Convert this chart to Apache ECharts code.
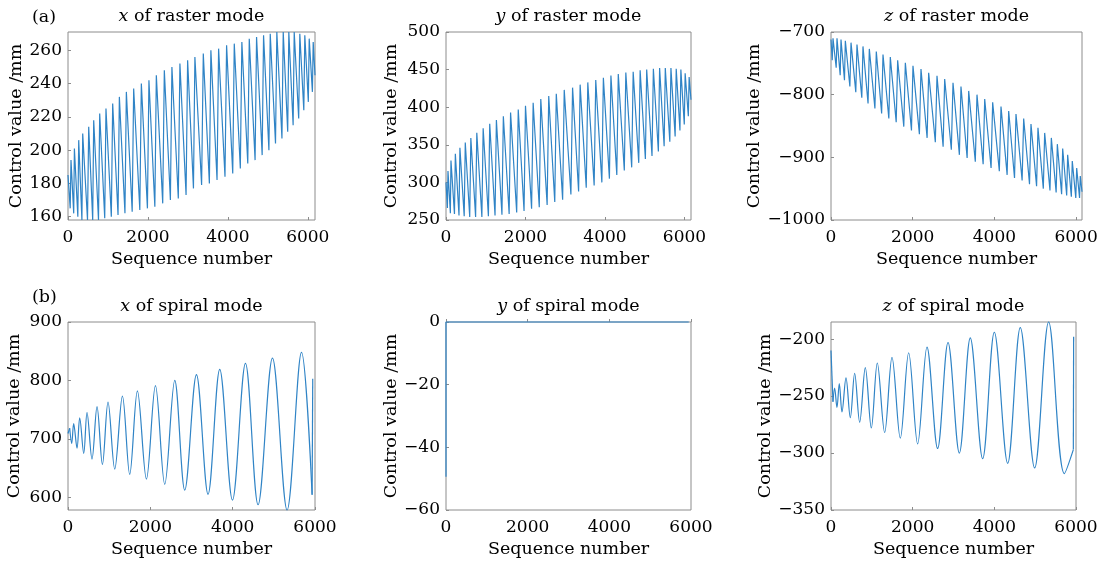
<!DOCTYPE html>
<html>
<head>
<meta charset="utf-8">
<script src="https://cdn.jsdelivr.net/npm/echarts@6/dist/echarts.min.js"></script>
<style>
  html, body { margin: 0; background: #fff; }
  #chart { width: 1111px; height: 562px; }
</style>
</head>
<body>
<div id="chart"></div>
<script>
// ---- raster mode: peaks and troughs of the zigzag ----
const rasterXStart = [0, 185]
const rasterXEnd = [6180, 245]
const rasterXTroughSeq = [55, 143, 246, 348, 488, 618, 763, 919, 1084, 1252, 1425, 1606, 1797, 1987, 2173, 2370, 2562, 2760, 2954, 3139, 3343, 3537, 3729, 3928, 4122, 4312, 4498, 4681, 4858, 5027, 5192, 5353, 5497, 5633, 5772, 5900, 6013, 6115]
const rasterXTroughVal = [165, 162, 160, 158, 158, 158, 158, 159, 160, 161, 162, 163, 164, 165, 166, 168, 170, 171, 173, 177, 179, 180, 182, 184, 186, 189, 192, 194, 197, 200, 204, 207, 211, 215, 219, 224, 229, 235]
const rasterXPeakSeq = [75, 160, 268, 368, 518, 643, 793, 950, 1118, 1285, 1460, 1643, 1835, 2025, 2210, 2410, 2600, 2800, 2993, 3175, 3385, 3575, 3768, 3968, 4160, 4350, 4535, 4718, 4893, 5060, 5225, 5385, 5525, 5660, 5800, 5925, 6035, 6135]
const rasterXPeakVal = [194, 201, 206, 210, 214, 218, 222, 225, 228, 232, 235, 237, 240, 242, 245, 248, 250, 252, 254, 256, 258, 260, 261, 263, 264, 265, 267, 268, 269, 270, 271, 271, 271, 271, 270, 269, 267, 265]

const rasterYStart = [0, 300]
const rasterYEnd = [6165, 410]
const rasterYTroughSeq = [35, 110, 213, 327, 458, 597, 745, 903, 1067, 1234, 1408, 1589, 1779, 1964, 2154, 2347, 2545, 2737, 2935, 3143, 3337, 3529, 3728, 3922, 4112, 4298, 4487, 4673, 4850, 5017, 5184, 5344, 5489, 5632, 5766, 5887, 5996, 6098]
const rasterYTroughVal = [266, 259, 258, 256, 255, 254, 254, 254, 255, 256, 257, 258, 260, 262, 265, 267, 270, 274, 277, 284, 288, 293, 296, 300, 305, 310, 316, 320, 326, 331, 335, 341, 348, 354, 361, 369, 377, 388]
const rasterYPeakSeq = [50, 125, 235, 350, 485, 625, 775, 935, 1100, 1268, 1443, 1625, 1818, 2000, 2193, 2385, 2585, 2775, 2975, 3185, 3375, 3568, 3768, 3960, 4150, 4335, 4525, 4710, 4885, 5050, 5218, 5375, 5518, 5660, 5793, 5910, 6018, 6118]
const rasterYPeakVal = [315, 329, 338, 346, 353, 359, 366, 372, 378, 383, 388, 393, 397, 402, 406, 411, 415, 418, 423, 426, 430, 433, 436, 439, 442, 444, 446, 447, 449, 450, 451, 452, 452, 452, 451, 450, 445, 440]

const rasterZStart = [0, -712]
const rasterZEnd = [6145, -955]
const rasterZTroughSeq = [30, 127, 225, 330, 462, 607, 754, 907, 1075, 1240, 1416, 1596, 1782, 1970, 2164, 2353, 2554, 2745, 2946, 3143, 3333, 3533, 3725, 3919, 4121, 4312, 4493, 4679, 4860, 5033, 5198, 5361, 5512, 5646, 5770, 5884, 5993, 6085]
const rasterZTroughVal = [-745, -757, -769, -777, -787, -796, -805, -814, -822, -830, -838, -844, -851, -857, -863, -869, -876, -883, -888, -896, -901, -907, -911, -917, -922, -928, -933, -937, -943, -946, -950, -953, -956, -959, -961, -963, -965, -965]
const rasterZPeakSeq = [49, 147, 245, 351, 490, 636, 783, 938, 1109, 1273, 1452, 1632, 1820, 2007, 2203, 2391, 2595, 2783, 2987, 3182, 3371, 3574, 3763, 3958, 4162, 4350, 4529, 4717, 4896, 5067, 5231, 5394, 5541, 5672, 5794, 5907, 6015, 6103]
const rasterZPeakVal = [-710, -710, -712, -714, -717, -720, -723, -727, -731, -736, -740, -745, -749, -754, -759, -765, -770, -775, -781, -787, -794, -800, -807, -812, -819, -826, -831, -838, -847, -853, -861, -869, -879, -886, -896, -906, -917, -930]

// ---- spiral mode: alternating extrema of the smooth wave ----
const spiralXStart = [0, 709]
const spiralXSeq = [41, 90, 138, 219, 284, 382, 462, 583, 705, 836, 972, 1135, 1322, 1499, 1686, 1905, 2124, 2350, 2593, 2836, 3120, 3402, 3686, 3995, 4311, 4617, 4967, 5322, 5672, 5930]
const spiralXVal = [718, 692, 726, 684, 736, 675, 745, 665, 755, 656, 763, 648, 773, 639, 782, 631, 791, 622, 800, 612, 810, 605, 819, 595, 829, 587, 838, 578, 848, 604]
const spiralXJump = [5945, 803]

const spiralYSeq = [0, 0, 5945]
const spiralYVal = [-49.4, 0, 0]

const spiralZStart = [0, -210]
const spiralZSeq = [48, 89, 146, 203, 269, 367, 473, 579, 702, 840, 987, 1134, 1314, 1494, 1697, 1902, 2122, 2351, 2611, 2866, 3143, 3411, 3714, 4000, 4327, 4636, 4988, 5330, 5715, 5935]
const spiralZVal = [-255, -243, -260, -239, -264, -234, -269, -230, -273, -225, -278, -221, -282, -216, -287, -212, -292, -207, -296, -203, -300, -199, -305, -194, -309, -190, -313, -185, -318, -297]
const spiralZJump = [5942, -198]

// tick labels
const seqTicks = [0, 2000, 4000, 6000]
const rasterXTicks = [160, 180, 200, 220, 240, 260]
const rasterYTicks = [250, 300, 350, 400, 450, 500]
const rasterZTicks = [-1000, -900, -800, -700]
const spiralXTicks = [600, 700, 800, 900]
const spiralYTicks = [-60, -40, -20, 0]
const spiralZTicks = [-350, -300, -250, -200]

function zigzag (start, tSeq, tVal, pSeq, pVal, end) {
  const out = [start]
  for (let i = 0; i < pSeq.length; i++) {
    out.push([tSeq[i], tVal[i]])
    out.push([pSeq[i], pVal[i]])
  }
  out.push(end)
  return out
}
function pairs (seq, val) {
  return seq.map((s, i) => [s, val[i]])
}

const FONT = 'DejaVu Serif'
const INK = '#000'
const BLUE = '#3084c6'
const FRAME = '#8c8c8c'

const grids = [
  { left: 68, top: 32, width: 247, height: 188 },
  { left: 446, top: 32, width: 245, height: 188 },
  { left: 831, top: 32, width: 251, height: 188 },
  { left: 68, top: 322, width: 247, height: 188 },
  { left: 446, top: 322, width: 245, height: 188 },
  { left: 831, top: 322, width: 245, height: 188 }
].map(g => Object.assign(g, { show: true, borderColor: FRAME, borderWidth: 1, backgroundColor: '#fff' }))

const xMax = [6180, 6165, 6145, 6000, 6000, 6000]
const yRange = [[158, 271], [250, 500], [-1000, -700], [578, 900], [-60, 0], [-350, -185]]
const yTicks = [rasterXTicks, rasterYTicks, rasterZTicks, spiralXTicks, spiralYTicks, spiralZTicks]
const yGap = [43, 46, 66, 45, 46, 56]

const minus = v => String(v).replace('-', '\u2212')

const xAxes = grids.map((g, i) => ({
  type: 'value', gridIndex: i, min: 0, max: xMax[i],
  name: 'Sequence number', nameLocation: 'middle', nameGap: 30,
  nameTextStyle: { fontFamily: FONT, fontSize: 17.5, color: INK },
  axisLine: { show: false },
  axisTick: { show: true, inside: true, length: 3, lineStyle: { color: FRAME }, customValues: seqTicks },
  axisLabel: { fontFamily: FONT, fontSize: 17, color: INK, margin: 9, customValues: seqTicks, formatter: minus },
  splitLine: { show: false }
}))

const yAxes = grids.map((g, i) => ({
  type: 'value', gridIndex: i, min: yRange[i][0], max: yRange[i][1],
  name: 'Control value /mm', nameLocation: 'middle', nameGap: yGap[i],
  nameTextStyle: { fontFamily: FONT, fontSize: 17.5, color: INK },
  axisLine: { show: false },
  axisTick: { show: true, inside: true, length: 3, lineStyle: { color: FRAME }, customValues: yTicks[i] },
  axisLabel: { fontFamily: FONT, fontSize: 17, color: INK, margin: 6, customValues: yTicks[i], formatter: minus },
  splitLine: { show: false }
}))

const titleStyle = {
  fontFamily: FONT, fontSize: 17.5, fontWeight: 'normal', color: INK,
  rich: { i: { fontFamily: FONT, fontSize: 17.5, fontStyle: 'italic', color: INK } }
}
const titleText = ['{i|x} of raster mode', '{i|y} of raster mode', '{i|z} of raster mode',
  '{i|x} of spiral mode', '{i|y} of spiral mode', '{i|z} of spiral mode']
const titles = grids.map((g, i) => ({
  text: titleText[i], left: g.left + g.width / 2, top: g.top - 25, textAlign: 'center',
  textStyle: titleStyle, padding: 0
}))
titles.push({ text: '(a)', left: 32, top: 8, padding: 0, textStyle: titleStyle })
titles.push({ text: '(b)', left: 32, top: 288, padding: 0, textStyle: titleStyle })

function line (i, data, smooth) {
  return {
    type: 'line', xAxisIndex: i, yAxisIndex: i, data: data,
    showSymbol: false, smooth: smooth ? 0.35 : false, clip: false,
    lineStyle: { color: BLUE, width: 1.2 }, animation: false
  }
}

const series = [
  line(0, zigzag(rasterXStart, rasterXTroughSeq, rasterXTroughVal, rasterXPeakSeq, rasterXPeakVal, rasterXEnd)),
  line(1, zigzag(rasterYStart, rasterYTroughSeq, rasterYTroughVal, rasterYPeakSeq, rasterYPeakVal, rasterYEnd)),
  line(2, zigzag(rasterZStart, rasterZTroughSeq, rasterZTroughVal, rasterZPeakSeq, rasterZPeakVal, rasterZEnd)),
  line(3, pairs(spiralXSeq, spiralXVal), true),
  line(3, [spiralXStart, [spiralXSeq[0], spiralXVal[0]]]),
  line(3, [[spiralXSeq[spiralXSeq.length - 1], spiralXVal[spiralXVal.length - 1]], spiralXJump]),
  line(4, pairs(spiralYSeq, spiralYVal)),
  line(5, pairs(spiralZSeq, spiralZVal), true),
  line(5, [spiralZStart, [spiralZSeq[0], spiralZVal[0]]]),
  line(5, [[spiralZSeq[spiralZSeq.length - 1], spiralZVal[spiralZVal.length - 1]], spiralZJump])
]

const chart = echarts.init(document.getElementById('chart'), null, { renderer: 'canvas' })
chart.setOption({
  animation: false,
  backgroundColor: '#fff',
  title: titles,
  grid: grids,
  xAxis: xAxes,
  yAxis: yAxes,
  series: series
})
window.addEventListener('resize', () => chart.resize())
</script>
</body>
</html>
